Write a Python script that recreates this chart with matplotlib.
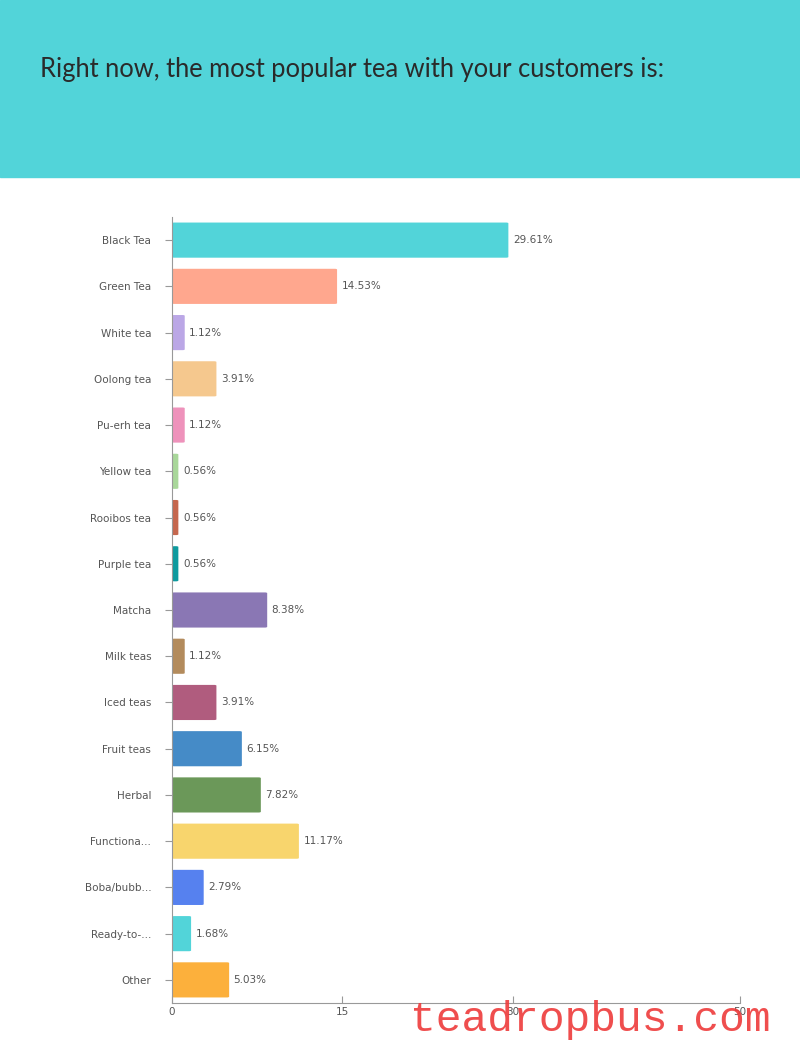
import matplotlib
matplotlib.use("Agg")
import matplotlib.pyplot as plt
from matplotlib.patches import FancyBboxPatch, Rectangle

CATEGORIES = ["Black Tea", "Green Tea", "White tea", "Oolong tea", "Pu-erh tea", "Yellow tea",
              "Rooibos tea", "Purple tea", "Matcha", "Milk teas", "Iced teas", "Fruit teas",
              "Herbal", "Functiona...", "Boba/bubb...", "Ready-to-...", "Other"]
VALUES = [29.61, 14.53, 1.12, 3.91, 1.12, 0.56, 0.56, 0.56, 8.38, 1.12, 3.91, 6.15,
          7.82, 11.17, 2.79, 1.68, 5.03]
COLORS = ["#52D4D9", "#FFA78E", "#BBA7E6", "#F5C88E", "#EE92BB", "#A9D79A", "#C5674E",
          "#0E9A9E", "#8A77B4", "#B38B5C", "#B05C7E", "#458BC7", "#6B9859", "#F8D56D",
          "#5681EF", "#52D4D9", "#FCB03C"]
XTICKS = [0, 15, 30, 50]

W, H = 800, 1046
fig = plt.figure(figsize=(W / 100, H / 100), dpi=100)
fig.patches.append(Rectangle((0, 1 - 177 / H), 1, 177 / H, transform=fig.transFigure,
                             color="#52D4D9", zorder=0))
fig.text(40 / W, 1 - 70 / H, "Right now, the most popular tea with your customers is:",
         fontsize=18.4, color="#2a2a2a", family="Lato",
         va="center", ha="left")

ax = fig.add_axes([172 / W, 1 - 1003 / H, (740 - 172) / W, (1003 - 217) / H])
n = len(CATEGORIES)
ys = list(range(n))
for y, v, c in zip(ys, VALUES, COLORS):
    ax.add_patch(FancyBboxPatch((0, y - 0.38), v, 0.76, boxstyle="round,pad=0,rounding_size=0.2",
                                mutation_aspect=1 / 12, facecolor=c, edgecolor="none"))
    ax.text(v + 0.4, y, f"{v:.2f}%", va="center", ha="left", fontsize=7.5, color="#555555")
ax.set_xlim(0, 50)
ax.set_ylim(n - 0.5, -0.5)
ax.set_yticks(ys)
ax.set_yticklabels(CATEGORIES, fontsize=7.5, color="#555555")
ax.set_xticks(XTICKS)
ax.set_xticklabels([str(t) for t in XTICKS], fontsize=7.5, color="#555555")
for s in ["top", "right"]:
    ax.spines[s].set_visible(False)
for s in ["left", "bottom"]:
    ax.spines[s].set_color("#999999")
ax.tick_params(axis="y", length=5, color="#999999", pad=10)
ax.tick_params(axis="x", length=5, color="#999999", direction="in", pad=3)

fig.text(410 / W, 1 - 1020 / H, "teadropbus.com", fontsize=31, color="#EE3B3B",
         family="Liberation Mono", va="center", ha="left", alpha=0.9)
fig.savefig("out.png", dpi=100)
